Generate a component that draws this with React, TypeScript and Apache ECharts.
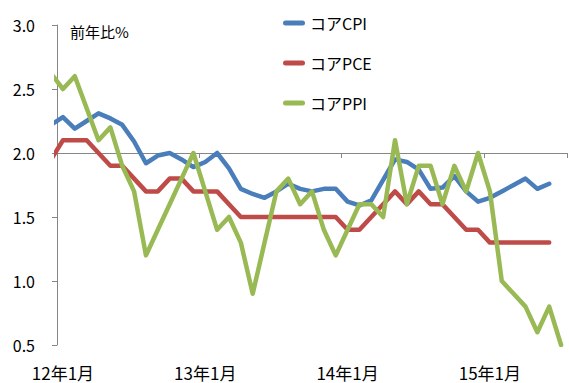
import React, { useEffect, useRef } from "react";
import * as echarts from "echarts";

// Month labels, Jan 2012 .. Jul 2015
const categories = [
  "12年1月", "12年2月", "12年3月", "12年4月", "12年5月", "12年6月", "12年7月", "12年8月", "12年9月", "12年10月", "12年11月", "12年12月",
  "13年1月", "13年2月", "13年3月", "13年4月", "13年5月", "13年6月", "13年7月", "13年8月", "13年9月", "13年10月", "13年11月", "13年12月",
  "14年1月", "14年2月", "14年3月", "14年4月", "14年5月", "14年6月", "14年7月", "14年8月", "14年9月", "14年10月", "14年11月", "14年12月",
  "15年1月", "15年2月", "15年3月", "15年4月", "15年5月", "15年6月", "15年7月",
];

// Values start at Dec 2011 (index -1), which is clipped at the left axis
const startIndex = -1;
const coreCPI = [
  2.22, 2.28, 2.19, 2.25, 2.31, 2.27, 2.22, 2.09, 1.92, 1.98, 2.0, 1.95, 1.89,
  1.93, 2.0, 1.88, 1.72, 1.68, 1.65, 1.7, 1.76, 1.72, 1.7, 1.72, 1.72,
  1.62, 1.59, 1.63, 1.79, 1.95, 1.93, 1.87, 1.72, 1.73, 1.82, 1.7, 1.62,
  1.65, 1.7, 1.75, 1.8, 1.72, 1.76,
];
const corePCE = [
  1.95, 2.1, 2.1, 2.1, 2.0, 1.9, 1.9, 1.8, 1.7, 1.7, 1.8, 1.8, 1.7,
  1.7, 1.7, 1.6, 1.5, 1.5, 1.5, 1.5, 1.5, 1.5, 1.5, 1.5, 1.5,
  1.4, 1.4, 1.5, 1.6, 1.7, 1.6, 1.7, 1.6, 1.6, 1.5, 1.4, 1.4,
  1.3, 1.3, 1.3, 1.3, 1.3, 1.3,
];
const corePPI = [
  2.62, 2.5, 2.6, 2.35, 2.1, 2.2, 1.9, 1.7, 1.2, 1.4, 1.6, 1.8, 2.0,
  1.7, 1.4, 1.5, 1.3, 0.9, 1.3, 1.7, 1.8, 1.6, 1.7, 1.4, 1.2,
  1.4, 1.6, 1.6, 1.5, 2.1, 1.6, 1.9, 1.9, 1.6, 1.9, 1.7, 2.0,
  1.7, 1.0, 0.9, 0.8, 0.6, 0.8, 0.5,
];

const seriesNames = ["コアCPI", "コアPCE", "コアPPI"];
const seriesColors = ["#4A7EBB", "#BE4B48", "#98B954"];
const unitLabel = "前年比%";

const FONT = "'Noto Sans CJK JP', 'Noto Sans', sans-serif";
const AXIS_COLOR = "#868686";

const toPairs = (vals: number[]) => vals.map((v, i) => [i + startIndex, v]);

export default function App() {
  const ref = useRef<HTMLDivElement>(null);
  useEffect(() => {
    if (!ref.current) return;
    const chart = echarts.init(ref.current, null, { renderer: "svg" });
    const allData = [coreCPI, corePCE, corePPI];
    chart.setOption({
      animation: false,
      textStyle: { fontFamily: FONT },
      grid: { left: 57, right: 2, top: 25, bottom: 38, containLabel: false },
      legend: {
        orient: "vertical",
        left: 278,
        top: 10,
        itemWidth: 22,
        itemHeight: 5,
        itemGap: 24,
        icon: "path://M2.5,0H19.5A2.5,2.5,0,0,1,19.5,5H2.5A2.5,2.5,0,0,1,2.5,0Z",
        textStyle: { fontSize: 16, color: "#000", fontFamily: FONT, lineHeight: 16 },
        data: seriesNames,
      },
      graphic: [
        {
          type: "text",
          left: 70,
          top: 24,
          style: { text: unitLabel, fontSize: 15, fill: "#000", fontFamily: FONT },
        },
      ],
      xAxis: [
        {
          type: "category",
          data: categories,
          boundaryGap: true,
          position: "bottom",
          axisLine: { show: false, onZero: false },
          axisTick: { show: false },
          axisLabel: { interval: 11, fontSize: 17, lineHeight: 16, color: "#000", margin: 19, fontFamily: FONT },
          splitLine: { show: false },
        },
        {
          type: "category",
          data: categories,
          boundaryGap: true,
          position: "bottom",
          offset: -192,
          axisLine: { show: true, onZero: false, lineStyle: { color: AXIS_COLOR, width: 1 } },
          axisTick: { show: true, interval: 11, length: 5, lineStyle: { color: AXIS_COLOR } },
          axisLabel: { show: false },
          splitLine: { show: false },
        },
        {
          type: "value",
          min: -0.5,
          max: categories.length - 0.5,
          show: false,
          axisLine: { onZero: false },
          splitLine: { show: false },
        },
      ],
      yAxis: {
        type: "value",
        min: 0.5,
        max: 3.0,
        interval: 0.5,
        axisLine: { show: true, onZero: false, lineStyle: { color: AXIS_COLOR, width: 1 } },
        axisTick: { show: true, length: 5, lineStyle: { color: AXIS_COLOR } },
        axisLabel: {
          fontSize: 16,
          color: "#000",
          margin: 22,
          fontFamily: FONT,
          formatter: (v: number) => v.toFixed(1),
        },
        splitLine: { show: false },
      },
      series: seriesNames.map((name, k) => ({
        name,
        type: "line",
        xAxisIndex: 2,
        data: toPairs(allData[k]),
        symbol: "none",
        clip: true,
        color: seriesColors[k],
        lineStyle: { width: 4.5, color: seriesColors[k], cap: "round", join: "round" },
      })),
    });
    return () => chart.dispose();
  }, []);
  return (
    <div
      ref={ref}
      style={{ position: "fixed", left: 0, top: 0, width: 569, height: 383, background: "#fff" }}
    />
  );
}
